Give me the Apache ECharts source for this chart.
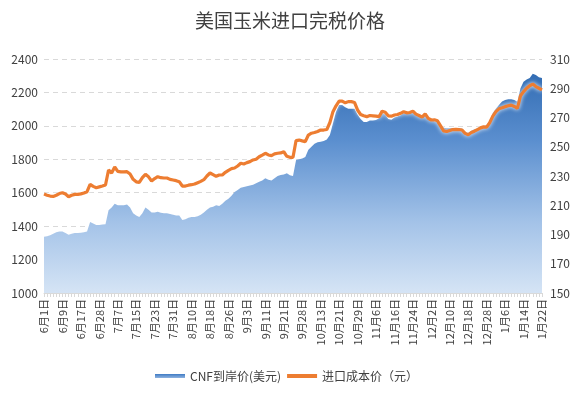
<!DOCTYPE html>
<html><head><meta charset="utf-8">
<script src="https://cdn.jsdelivr.net/npm/echarts@6/dist/echarts.min.js"></script>
<style>html,body{margin:0;padding:0;background:#fff}#c{width:580px;height:393px}</style>
</head><body><div id="c"></div>
<script>
var dates = ["6月1日","6月2日","6月3日","6月4日","6月5日","6月8日","6月9日",
"6月10日","6月11日","6月12日","6月15日","6月16日","6月17日",
"6月18日","6月19日","6月22日","6月23日","6月24日","6月28日",
"6月29日","6月30日","7月1日","7月2日","7月6日","7月7日",
"7月8日","7月9日","7月10日","7月13日","7月14日","7月15日",
"7月16日","7月17日","7月20日","7月21日","7月22日","7月23日",
"7月24日","7月27日","7月28日","7月29日","7月30日","7月31日",
"8月3日","8月4日","8月5日","8月6日","8月7日","8月10日",
"8月11日","8月12日","8月13日","8月14日","8月17日","8月18日",
"8月19日","8月20日","8月21日","8月24日","8月25日","8月26日",
"8月27日","8月28日","8月31日","9月1日","9月2日","9月3日",
"9月4日","9月7日","9月8日","9月9日","9月10日","9月11日",
"9月14日","9月15日","9月16日","9月17日","9月18日","9月21日",
"9月22日","9月23日","9月24日","9月25日","9月27日","9月28日",
"9月29日","9月30日","10月9日","10月10日","10月12日","10月13日",
"10月14日","10月15日","10月16日","10月19日","10月20日","10月21日",
"10月22日","10月23日","10月26日","10月27日","10月28日","10月29日",
"10月30日","11月2日","11月3日","11月4日","11月5日","11月6日",
"11月9日","11月10日","11月11日","11月12日","11月13日","11月16日",
"11月17日","11月18日","11月19日","11月20日","11月23日","11月24日",
"11月25日","11月26日","11月27日","11月30日","12月1日","12月2日",
"12月3日","12月4日","12月7日","12月8日","12月9日","12月10日",
"12月11日","12月14日","12月15日","12月16日","12月17日","12月18日",
"12月21日","12月22日","12月23日","12月24日","12月25日","12月28日",
"12月29日","12月30日","12月31日","1月4日","1月5日","1月6日",
"1月7日","1月8日","1月11日","1月12日","1月13日","1月14日",
"1月15日","1月18日","1月19日","1月20日","1月21日","1月22日"];

// CNF到岸价(美元) - right axis
var cnfUsd = [188.5,188.8,189.5,190.5,191.5,192,192,191,189.8,190.5,
191,191,191.2,191.5,192,198.5,197.5,196.5,196.5,196.8,
197,206.5,208.5,211,210,210,210,210.5,208.5,204.5,
203,202,204.5,208.5,207,205,205,205.5,204.8,204.5,
204.5,204,203.5,203,203,200,200.5,201.5,202,202,
202.5,203.5,205,207,208.5,209,210,209.5,211,213,
214.5,216.5,219,220.5,222,222.5,223,223.5,224,225,
226,227,228.4,227.5,227,228.5,230,230.7,231,231.8,
230.5,230,241,241.5,242,243,248,250,252,253,
253.5,254,255,258,266,274,278.5,278.5,277,276,
276,276,272,269,267,267,268,268,268.3,269.5,
273,272,269,268.5,270,270.6,271.5,273,272.5,272.9,
273,271.5,271,270,272,269,268,267.5,267,265,
263,262.6,262.6,262.8,262.8,262.6,262.4,260,259.6,261,
262,262.5,263.3,264,265,268,273,276,278.5,281,
282,282.4,282.4,282,280.8,290,294.5,296,297,300,
299,297.5,297];

// 进口成本价（元） - left axis
var importCny = [1592,1585,1580,1578,1585,1595,1600,1592,1576,1585,
1590,1590,1593,1598,1606,1650,1638,1630,1635,1640,
1646,1736,1718,1754,1728,1725,1725,1726,1712,1680,
1665,1662,1690,1710,1695,1670,1685,1696,1690,1688,
1688,1680,1676,1672,1666,1640,1640,1645,1648,1652,
1660,1668,1678,1700,1718,1708,1698,1706,1706,1722,
1734,1744,1748,1760,1776,1772,1780,1786,1796,1800,
1815,1825,1836,1826,1822,1832,1836,1838,1845,1818,
1812,1812,1912,1915,1910,1906,1945,1956,1960,1966,
1975,1975,1978,2020,2085,2120,2148,2148,2138,2145,
2145,2140,2095,2068,2060,2055,2062,2060,2058,2055,
2088,2082,2060,2058,2065,2068,2075,2085,2078,2080,
2088,2070,2062,2052,2072,2045,2035,2036,2030,2000,
1970,1966,1972,1978,1979,1978,1975,1955,1947,1960,
1968,1978,1988,1994,1992,2020,2058,2085,2102,2108,
2115,2120,2124,2116,2105,2180,2205,2225,2240,2250,
2235,2225,2215];

var leftTicks = {min: 1000, max: 2400, interval: 200};
var rightTicks = {min: 150, max: 310, interval: 20};

var chart = echarts.init(document.getElementById('c'), null, {renderer: 'canvas'});
var areaGrad = new echarts.graphic.LinearGradient(0, 59, 0, 293, [
  {offset: 0, color: '#2a66ae'},
  {offset: 0.35, color: '#5b8fcf'},
  {offset: 0.7, color: '#a4c3e8'},
  {offset: 1, color: '#d5e4f5'}
], true);
var legendGrad = new echarts.graphic.LinearGradient(0, 0, 0, 1, [
  {offset: 0, color: '#3f7bc4'}, {offset: 1, color: '#8fb3e0'}]);
var font = '"Noto Sans CJK SC", "Microsoft YaHei", sans-serif';
chart.setOption({
  animation: false,
  title: {text: '美国玉米进口完税价格', left: 'center', top: 6,
    textStyle: {fontFamily: font, fontSize: 19, fontWeight: 'normal', color: '#404040'}},
  grid: {left: 44, right: 38, top: 59, bottom: 100},
  legend: {bottom: 6, left: 150, itemWidth: 30, itemHeight: 4, itemGap: 6,
    textStyle: {fontFamily: font, fontSize: 12, color: '#404040'},
    data: [{name: 'CNF到岸价(美元)', icon: 'rect', itemStyle: {color: legendGrad}},
           {name: '进口成本价（元）', icon: 'rect', itemStyle: {color: '#ed7d31'}}]},
  xAxis: {type: 'category', data: dates, boundaryGap: false,
    axisLine: {lineStyle: {color: '#d9d9d9'}},
    axisTick: {interval: 0, length: 4, lineStyle: {color: '#d9d9d9'}},
    axisLabel: {interval: 5, rotate: 90, fontSize: 11, color: '#404040', fontFamily: font, margin: 6}},
  yAxis: [
    {type: 'value', min: leftTicks.min, max: leftTicks.max, interval: leftTicks.interval,
     axisLine: {show: false}, axisTick: {show: false},
     axisLabel: {fontSize: 12, color: '#404040', fontFamily: font, margin: 6,
       formatter: function (v) { return String(v); }},
     splitLine: {lineStyle: {color: '#d9d9d9', type: [5, 4]}}},
    {type: 'value', min: rightTicks.min, max: rightTicks.max, interval: rightTicks.interval,
     axisLine: {show: false}, axisTick: {show: false},
     axisLabel: {fontSize: 12, color: '#404040', fontFamily: font, margin: 8,
       formatter: function (v) { return String(v); }},
     splitLine: {show: false}}
  ],
  series: [
    {name: 'CNF到岸价(美元)', type: 'line', yAxisIndex: 1, data: cnfUsd,
     symbol: 'none', lineStyle: {width: 0, opacity: 0}, itemStyle: {color: '#3f7bc4'},
     areaStyle: {color: areaGrad, opacity: 1}, z: 1},
    {name: '进口成本价（元）', type: 'line', yAxisIndex: 0, data: importCny,
     symbol: 'none', itemStyle: {color: '#ed7d31'},
     lineStyle: {width: 3.2, color: '#ed7d31', shadowColor: 'rgba(255,255,255,0.95)', shadowBlur: 4}, z: 3}
  ]
});
</script></body></html>
